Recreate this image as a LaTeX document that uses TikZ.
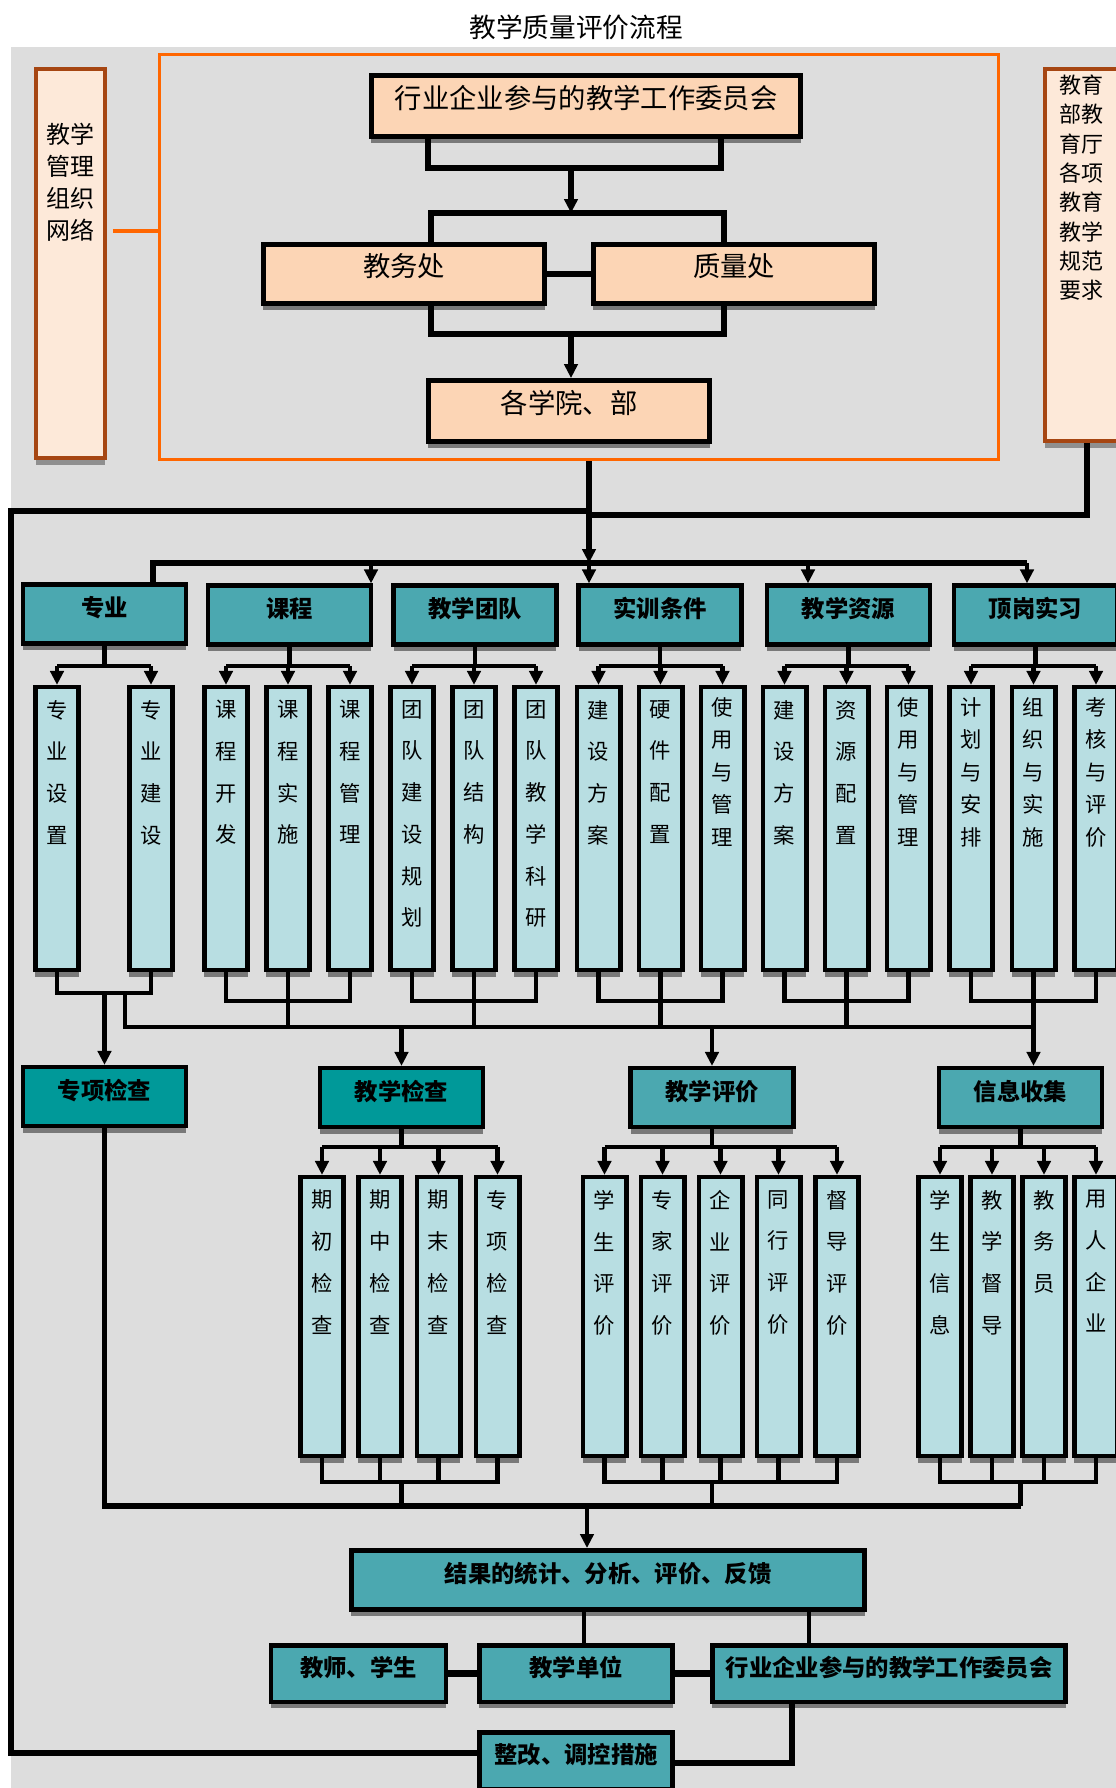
\documentclass[tikz,border=0pt]{standalone}
\usepackage{fontspec}
\newfontfamily\cjk{Noto Sans CJK SC}
\usetikzlibrary{arrows.meta,calc,shadows}

\definecolor{bggray}{RGB}{221,221,221}
\definecolor{peachfill}{RGB}{252,213,181}
\definecolor{sidefill}{RGB}{253,233,217}
\definecolor{sideedge}{RGB}{166,70,18}
\definecolor{framecol}{RGB}{255,102,0}
\definecolor{teallt}{RGB}{75,168,176}
\definecolor{tealdk}{RGB}{0,153,153}
\definecolor{colfill}{RGB}{184,222,226}

\newcommand{\ttlfont}{\cjk\fontsize{20}{24}\selectfont}
\newcommand{\peachfont}{\cjk\fontsize{20.5}{24}\selectfont}
\newcommand{\leftfont}{\cjk\fontsize{18}{24}\selectfont}
\newcommand{\rightfont}{\cjk\fontsize{16.5}{22}\selectfont}
\newcommand{\tealfont}{\cjk\bfseries\fontsize{17.5}{21}\selectfont}
\newcommand{\colfont}{\cjk\fontsize{16}{31.3}\selectfont}
\newcommand{\colfontt}{\cjk\fontsize{16}{24.4}\selectfont}

\tikzset{
  box/.style={draw=black, line width=3.4pt, inner sep=0pt, text height=15pt, text depth=11pt,
    drop shadow={shadow xshift=0pt, shadow yshift=-5pt, fill=black, opacity=.45}},
  peach/.style={box, fill=peachfill, font=\peachfont},
  teal/.style={box, fill=teallt, font=\tealfont, minimum width=122pt, minimum height=44pt},
  tealdark/.style={teal, fill=tealdk},
  coltext/.style={font=\colfont, align=center, anchor=north, inner sep=0pt, yshift=-11.3pt},
  coltextt/.style={font=\colfontt, align=center, anchor=north, inner sep=0pt, yshift=-9pt},
  col/.style={box, fill=colfill, minimum width=32.6pt, minimum height=212pt, label={[coltext]north:#1}},
  colt/.style={box, fill=colfill, minimum width=32.6pt, minimum height=212pt, label={[coltextt]north:#1}},
  low/.style={minimum height=209pt},
  side/.style={draw=sideedge, line width=2.6pt, fill=sidefill, inner sep=0pt,
    drop shadow={shadow xshift=0pt, shadow yshift=-5pt, fill=black, opacity=.35}},
  thickc/.style={line width=4.2pt},
  medc/.style={line width=3.2pt},
  heavyc/.style={line width=4.6pt},
  framec/.style={draw=framecol, line width=2.3pt},
  flow/.style={-{Triangle[length=10.5pt,width=10pt]}}
}

\begin{document}
\begin{tikzpicture}[x=0.75pt,y=-0.75pt]
  \useasboundingbox (0,0) rectangle (1116,1788);
  \fill[white] (0,0) rectangle (1116,1788);
  \fill[bggray] (11,47) rectangle (1116,1788);
  \node[font=\ttlfont] (ttl) at (576,27) {教学质量评价流程};

  % upper organisation part
  \node[framec, minimum width=629pt, minimum height=304pt, inner sep=0pt] (of) at (579,257) {};
  \node[side, minimum width=52pt, minimum height=292pt,
    label={[font=\leftfont, align=center, anchor=north, inner sep=0pt, yshift=-41.5pt]north:教学\\管理\\组织\\网络}] (lb) at (70.5,263.5) {};
  \node[side, minimum width=55pt, minimum height=279pt,
    label={[font=\rightfont, align=center, anchor=north, inner sep=0pt, yshift=-5.5pt]north:教育\\部教\\育厅\\各项\\教育\\教学\\规范\\要求}] (rb) at (1081.5,255) {};
  \node[peach, minimum width=322pt, minimum height=46pt] (hyt) at (586,106) {行业企业参与的教学工作委员会};
  \node[peach, minimum width=211pt, minimum height=44.6pt] (jw) at (404,274) {教务处};
  \node[peach, minimum width=211pt, minimum height=44.6pt] (zl) at (734,274) {质量处};
  \node[peach, minimum width=211pt, minimum height=46pt] (gy) at (569,411) {各学院、部};

  \coordinate (t1) at (571,168);
  \coordinate (t2) at (571,213);
  \coordinate (t3) at (571,334);
  \coordinate (olk) at (0,231);
  \draw[thickc] ($(hyt.south)+(-158,0)$) |- (t1) -| ($(hyt.south)+(135,0)$);
  \draw[thickc,flow] (t1) -- (t2);
  \draw[thickc] ($(jw.north)+(27,0)$) |- (t2) -| ($(zl.north)+(-10,0)$);
  \draw[thickc] (jw.east) -- (zl.west);
  \draw[thickc] ($(jw.south)+(27,0)$) |- (t3) -| ($(zl.south)+(-10,0)$);
  \draw[thickc,flow] (t3) -- (t3 |- gy.north);
  \draw[framec] ($(lb.east |- olk)+(6,0)$) -- (of.west |- olk);

  % teaching elements
  \node[teal] (zy) at (104.5,614) {专业};
  \node[teal] (kc) at (289.5,615) {课程};
  \node[teal] (td) at (475,615) {教学团队};
  \node[teal] (sx) at (660,615) {实训条件};
  \node[teal] (zyuan) at (848.5,615) {教学资源};
  \node[teal] (dg) at (1035.5,615) {顶岗实习};

  \node[col={专\\业\\设\\置}] (zy1) at (57,828.5) {};
  \node[col={专\\业\\建\\设}] (zy2) at (151,828.5) {};
  \node[col={课\\程\\开\\发}] (kc1) at (226,828.5) {};
  \node[col={课\\程\\实\\施}] (kc2) at (288,828.5) {};
  \node[col={课\\程\\管\\理}] (kc3) at (350,828.5) {};
  \node[col={团\\队\\建\\设\\规\\划}] (td1) at (412,828.5) {};
  \node[col={团\\队\\结\\构}] (td2) at (474,828.5) {};
  \node[col={团\\队\\教\\学\\科\\研}] (td3) at (536,828.5) {};
  \node[col={建\\设\\方\\案}] (sx1) at (598.5,828.5) {};
  \node[col={硬\\件\\配\\置}] (sx2) at (660.5,828.5) {};
  \node[colt={使\\用\\与\\管\\理}] (sx3) at (722.5,828.5) {};
  \node[col={建\\设\\方\\案}] (zr1) at (784.5,828.5) {};
  \node[col={资\\源\\配\\置}] (zr2) at (846.5,828.5) {};
  \node[colt={使\\用\\与\\管\\理}] (zr3) at (908.5,828.5) {};
  \node[colt={计\\划\\与\\安\\排}] (dg1) at (971,828.5) {};
  \node[colt={组\\织\\与\\实\\施}] (dg2) at (1033.5,828.5) {};
  \node[colt={考\\核\\与\\评\\价}] (dg3) at (1096,828.5) {};

  \coordinate (hub) at (589,563);
  \coordinate (jn) at (589,511);
  \coordinate (jr) at (589,515);
  \coordinate (lp) at (11,511);
  \draw[thickc] (of.south -| jn) -- (jn);
  \draw[thickc,flow] (jn) -- (hub);
  \draw[thickc] ($(rb.south)+(5.5,0)$) |- (jr);
  \draw[thickc] (zy.north -| 153,0) |- (1027,563);
  \foreach \p/\x in {kc/371,sx/589,zyuan/808,dg/1027}
    \draw[medc,flow] (\x,563) -- (\p.north -| \x,0);

  \foreach \p/\a/\b in {zy/zy1/zy2,kc/kc1/kc3,td/td1/td3,sx/sx1/sx3,zyuan/zr1/zr3,dg/dg1/dg3} {
    \draw[medc] (\p.south) -- (\p.south |- 0,666);
    \draw[medc] (\a |- 0,666) -- (\b |- 0,666);
  }
  \foreach \c in {zy1,zy2,kc1,kc2,kc3,td1,td2,td3,sx1,sx2,sx3,zr1,zr2,zr3,dg1,dg2,dg3}
    \draw[medc,flow] (\c |- 0,666) -- (\c.north);

  % checks, evaluation, information
  \node[tealdark] (zx) at (104.5,1096.5) {专项检查};
  \node[tealdark] (jc) at (401.5,1097.5) {教学检查};
  \node[teal] (pj) at (712,1097.5) {教学评价};
  \node[teal] (xx) at (1020.5,1097.5) {信息收集};

  \draw[medc] (zy1.south) |- (zy2 |- 0,993) -- (zy2.south);
  \draw[medc,flow] (zx.north |- 0,993) -- (zx.north);
  \draw[medc] (125,993) |- (dg2 |- 0,1027);
  \foreach \a/\b/\c in {kc1/kc2/kc3,td1/td2/td3,sx1/sx2/sx3,zr1/zr2/zr3,dg1/dg2/dg3} {
    \draw[medc] (\a.south) |- (\c |- 0,1001) -- (\c.south);
    \draw[medc] (\b.south) -- (\b |- 0,1027);
  }
  \foreach \p in {jc,pj}
    \draw[medc,flow] (\p.north |- 0,1027) -- (\p.north);
  \draw[medc,flow] (dg2 |- 0,1027) -- (dg2 |- xx.north);

  \node[col={期\\初\\检\\查}, low] (jc1) at (322,1316.5) {};
  \node[col={期\\中\\检\\查}, low] (jc2) at (380,1316.5) {};
  \node[col={期\\末\\检\\查}, low] (jc3) at (438.5,1316.5) {};
  \node[col={专\\项\\检\\查}, low] (jc4) at (497.5,1316.5) {};
  \node[col={学\\生\\评\\价}, low] (pj1) at (604.5,1316.5) {};
  \node[col={专\\家\\评\\价}, low] (pj2) at (662.5,1316.5) {};
  \node[col={企\\业\\评\\价}, low] (pj3) at (720.5,1316.5) {};
  \node[col={同\\行\\评\\价}, low] (pj4) at (778.5,1316.5) {};
  \node[col={督\\导\\评\\价}, low] (pj5) at (837,1316.5) {};
  \node[col={学\\生\\信\\息}, low] (xx1) at (940,1316.5) {};
  \node[col={教\\学\\督\\导}, low] (xx2) at (992,1316.5) {};
  \node[col={教\\务\\员}, low] (xx3) at (1044,1316.5) {};
  \node[col={用\\人\\企\\业}, low] (xx4) at (1096,1316.5) {};

  \foreach \p/\a/\b in {jc/jc1/jc4,pj/pj1/pj5,xx/xx1/xx4} {
    \draw[medc] (\p.south) -- (\p.south |- 0,1147);
    \draw[medc] (\a |- 0,1147) -- (\b |- 0,1147);
    \draw[medc] (\a.south) |- (\b |- 0,1482) -- (\b.south);
    \draw[medc] (\p |- 0,1482) -- (\p |- 0,1506);
  }
  \foreach \c in {jc1,jc2,jc3,jc4,pj1,pj2,pj3,pj4,pj5,xx1,xx2,xx3,xx4} {
    \draw[medc,flow] (\c |- 0,1147) -- (\c.north);
    \draw[medc] (\c.south) -- (\c |- 0,1482);
  }

  % results and feedback
  \node[teal, minimum width=385pt, minimum height=44.6pt] (jg) at (608,1580) {结果的统计、分析、评价、反馈};
  \node[teal, minimum width=131pt, minimum height=42.4pt] (js) at (358.5,1673.5) {教师、学生};
  \node[teal, minimum width=145pt, minimum height=42.4pt] (jd) at (576,1673.5) {教学单位};
  \node[teal, minimum width=265pt, minimum height=42.4pt] (hyb) at (889,1673.5) {行业企业参与的教学工作委员会};
  \node[teal, minimum width=145pt, minimum height=43pt] (zg) at (576,1761) {整改、调控措施};

  \draw[thickc] (zx.south) |- (xx |- 0,1506);
  \draw[medc,flow] (587,1506) -- (jg.north -| 587,0);
  \draw[medc] (jg.south -| 584,0) -- (jd.north -| 584,0);
  \draw[medc] (jg.south -| 809,0) -- (hyb.north -| 809,0);
  \draw[heavyc] (js.east) -- (jd.west);
  \draw[heavyc] (jd.east) -- (hyb.west);
  \draw[thickc] (hyb.south -| 792,0) |- (zg.east |- 0,1763);
  \draw[thickc] ([yshift=6pt]zg.west) -| (lp) -- (jn);
\end{tikzpicture}
\end{document}
